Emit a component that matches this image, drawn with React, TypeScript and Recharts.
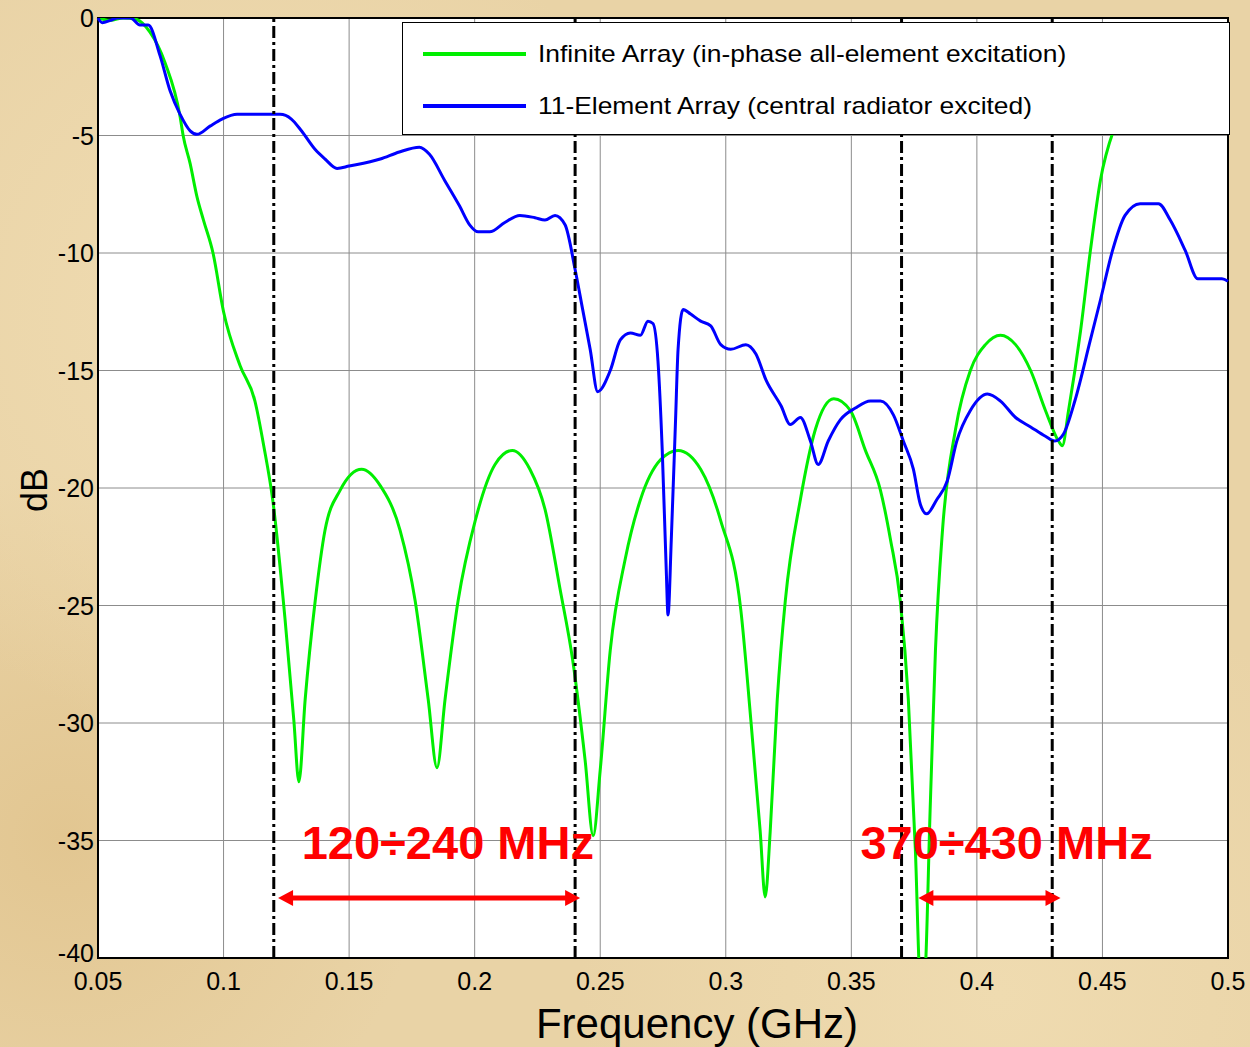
import {
  LineChart,
  Line,
  XAxis,
  YAxis,
  CartesianGrid,
  ReferenceLine,
  ReferenceArea,
  ReferenceDot,
} from 'recharts'

const FONT = '"Liberation Sans", Arial, sans-serif'

const xTicks = [0.05, 0.1, 0.15, 0.2, 0.25, 0.3, 0.35, 0.4, 0.45, 0.5]
const yTicks = [0, -5, -10, -15, -20, -25, -30, -35, -40]

// Infinite Array (in-phase all-element excitation)
const greenFreq = [
  0.05, 0.055, 0.06, 0.065, 0.0707, 0.0767, 0.0827, 0.0839, 0.0867, 0.0894, 0.092, 0.0958, 0.1,
  0.1066, 0.1125, 0.116, 0.1197, 0.1245, 0.128, 0.13, 0.1325, 0.1365, 0.1404, 0.1464, 0.155,
  0.1624, 0.1703, 0.1763, 0.1815, 0.185, 0.1882, 0.1934, 0.2002, 0.2081, 0.215, 0.222, 0.228,
  0.234, 0.239, 0.244, 0.2472, 0.25, 0.254, 0.26, 0.266, 0.274, 0.281, 0.29, 0.298, 0.306, 0.31,
  0.3137, 0.3157, 0.3177, 0.3205, 0.3237, 0.3297, 0.3357, 0.343, 0.3496, 0.3556, 0.3616, 0.3656,
  0.3695, 0.3727, 0.3755, 0.3775, 0.379, 0.3815, 0.3835, 0.3863, 0.3915, 0.3974, 0.4034, 0.4094,
  0.4154, 0.4214, 0.4273, 0.4325, 0.434, 0.4365, 0.4413, 0.4452, 0.4492, 0.455, 0.46, 0.465, 0.47,
  0.48, 0.49, 0.5,
]
const greenDb = [
  0, -0.1, 0, -0.05, -0.6, -1.9, -4.2, -5, -6.2, -7.6, -8.6, -10, -12.5, -14.8, -16.3, -18.2,
  -20.6, -25.6, -29.9, -32.5, -29, -24.8, -21.8, -20.1, -19.2, -19.9, -21.8, -24.8, -29, -31.9,
  -29, -24.8, -21.4, -19, -18.4, -19.2, -20.9, -24.3, -27.3, -31.6, -34.8, -32, -26.9, -23,
  -20.5, -18.8, -18.4, -19.2, -21.4, -25.2, -29.9, -34.6, -37.4, -34.6, -29, -24.8, -20.5, -17.5,
  -16.2, -16.7, -18.4, -20.1, -22.2, -24.8, -29, -35.4, -41, -41, -33.3, -26.9, -21.8, -17.5, -15,
  -13.9, -13.5, -13.9, -15, -16.7, -18, -18.2, -16.7, -13.3, -9.9, -6.9, -4.6, -3.4, -2.6, -2.1,
  -1.8, -1.6, -1.5,
]

// 11-Element Array (central radiator excited)
const blueFreq = [
  0.05, 0.0517, 0.055, 0.0577, 0.063, 0.0667, 0.07, 0.0747, 0.0787, 0.0827, 0.0867, 0.0894,
  0.0946, 0.0994, 0.1054, 0.1225, 0.127, 0.131, 0.1365, 0.1404, 0.1452, 0.15, 0.1624, 0.17, 0.178,
  0.182, 0.188, 0.194, 0.198, 0.2014, 0.206, 0.212, 0.218, 0.224, 0.228, 0.232, 0.236, 0.24,
  0.243, 0.246, 0.249, 0.254, 0.258, 0.262, 0.266, 0.269, 0.271, 0.273, 0.2747, 0.2763, 0.277,
  0.2783, 0.28, 0.281, 0.283, 0.286, 0.29, 0.294, 0.298, 0.302, 0.308, 0.312, 0.316, 0.322,
  0.3257, 0.3297, 0.3337, 0.3368, 0.3408, 0.3456, 0.3516, 0.3576, 0.3616, 0.3668, 0.3707, 0.3747,
  0.3775, 0.38, 0.384, 0.3882, 0.392, 0.3974, 0.4042, 0.4094, 0.4154, 0.4214, 0.4273, 0.431,
  0.4345, 0.439, 0.4452, 0.4492, 0.454, 0.459, 0.465, 0.4723, 0.477, 0.483, 0.488, 0.493, 0.4976,
  0.5,
]
const blueDb = [
  0, -0.2, -0.1, 0, 0, -0.3, -0.3, -1.6, -3.1, -4.1, -4.8, -4.95, -4.6, -4.3, -4.1, -4.1, -4.3,
  -4.8, -5.6, -6, -6.4, -6.3, -6, -5.7, -5.5, -5.8, -6.9, -8, -8.8, -9.1, -9.1, -8.7, -8.4, -8.5,
  -8.6, -8.4, -8.8, -10.7, -12.4, -14.1, -15.9, -15, -13.7, -13.4, -13.5, -12.9, -13, -14.6,
  -18.4, -23.5, -25.4, -22.2, -17.1, -14.1, -12.4, -12.6, -12.9, -13.1, -13.9, -14.1, -13.9,
  -14.3, -15.4, -16.5, -17.3, -17, -18, -19, -18, -17.1, -16.6, -16.3, -16.3, -16.9, -18, -19.2,
  -20.7, -21.1, -20.5, -19.7, -18, -16.7, -16, -16.3, -17, -17.4, -17.8, -18, -17.7, -16.3, -13.7,
  -12, -9.9, -8.4, -7.9, -7.9, -8.6, -9.9, -11.1, -11.1, -11.1, -11.2,
]

const bandEdges = [0.12, 0.24, 0.37, 0.43]
const bandLabels = ['120÷240 MHz', '370÷430 MHz']
const bandLabelX = [0.1893, 0.4118]
const bandArrows = [
  [0.1217, 0.242],
  [0.3767, 0.4333],
]

const greenData = greenFreq.map((f, i) => ({ f, db: greenDb[i] }))
const blueData = blueFreq.map((f, i) => ({ f, db: blueDb[i] }))

const ArrowShape = (p: any) => {
  const { x1, y1, x2, y2 } = p
  const h = 15
  const w = 8
  return (
    <g>
      <line x1={x1 + h - 2} y1={y1} x2={x2 - h + 2} y2={y2} stroke="#ff0000" strokeWidth={5} />
      <polygon points={`${x1},${y1} ${x1 + h},${y1 - w} ${x1 + h},${y1 + w}`} fill="#ff0000" />
      <polygon points={`${x2},${y2} ${x2 - h},${y2 - w} ${x2 - h},${y2 + w}`} fill="#ff0000" />
    </g>
  )
}

const bandText = (text: string) => (p: any) => (
  <text
    x={p.cx}
    y={p.cy}
    textAnchor="middle"
    fill="#ff0000"
    fontSize={47}
    fontWeight="bold"
    fontFamily={FONT}
  >
    {text}
  </text>
)

// y tick; the bottom label sits a little higher so it clears "0.05"
const YTick = (p: any) => {
  const v = p.payload.value
  return (
    <text
      x={p.x}
      y={p.y + (v === -40 ? -5 : 0)}
      textAnchor="end"
      dominantBaseline="central"
      fill="#000"
      fontSize={25}
      fontFamily={FONT}
    >
      {v}
    </text>
  )
}

export default function App() {
  return (
    <div
      style={{
        position: 'absolute',
        left: 0,
        top: 0,
        width: 1250,
        height: 1047,
        background:
          'radial-gradient(circle at 20% 30%, #f0dcb2 0, transparent 35%), radial-gradient(circle at 80% 95%, #efdbb0 0, transparent 30%), radial-gradient(circle at 5% 80%, #e2c691 0, transparent 25%), #e9d3a6',
        fontFamily: FONT,
      }}
    >
      <LineChart
        width={1250}
        height={1047}
        margin={{ top: 18, right: 22, left: 38, bottom: 49 }}
      >
        <CartesianGrid stroke="#8c8c8c" strokeWidth={1} fill="#ffffff" />
        <XAxis
          type="number"
          dataKey="f"
          domain={[0.05, 0.5]}
          ticks={xTicks}
          height={40}
          tickSize={0}
          tickMargin={14}
          axisLine={false}
          tick={{ fill: '#000', fontSize: 25, fontFamily: FONT }}
          tickFormatter={(v: number) => String(Number(v.toFixed(2)))}
        />
        <YAxis
          type="number"
          domain={[-40, 0]}
          ticks={yTicks}
          allowDataOverflow
          width={60}
          tickSize={0}
          tickMargin={4}
          axisLine={false}
          tick={YTick}
        />
        <Line
          data={greenData}
          dataKey="db"
          type="monotone"
          stroke="#00ee00"
          strokeWidth={3}
          dot={false}
          isAnimationActive={false}
        />
        <Line
          data={blueData}
          dataKey="db"
          type="monotone"
          stroke="#0000ff"
          strokeWidth={3}
          dot={false}
          isAnimationActive={false}
        />
        {bandEdges.map((x) => (
          <ReferenceLine
            key={x}
            x={x}
            stroke="#000"
            strokeWidth={3}
            strokeDasharray="12 4 3 4"
          />
        ))}
        <ReferenceArea x1={0.05} x2={0.5} y1={-40} y2={0} fill="none" stroke="#000" strokeWidth={2} />
        {bandArrows.map(([a, b]) => (
          <ReferenceLine
            key={a}
            segment={[
              { x: a, y: -37.45 },
              { x: b, y: -37.45 },
            ]}
            shape={ArrowShape}
            ifOverflow="visible"
          />
        ))}
        {bandLabels.map((t, i) => (
          <ReferenceDot
            key={t}
            x={bandLabelX[i]}
            y={-35.8}
            r={0}
            shape={bandText(t)}
            ifOverflow="visible"
          />
        ))}
      </LineChart>

      <div
        style={{
          position: 'absolute',
          left: 402,
          top: 22,
          width: 826,
          height: 111,
          background: '#fff',
          border: '1.5px solid #000',
        }}
      >
        {[
          { color: '#00ee00', label: 'Infinite Array (in-phase all-element excitation)', y: 31 },
          { color: '#0000ff', label: '11-Element Array (central radiator excited)', y: 83 },
        ].map((r) => (
          <div key={r.label}>
            <div
              style={{
                position: 'absolute',
                left: 20,
                top: r.y - 2,
                width: 103,
                height: 4,
                background: r.color,
              }}
            />
            <div
              style={{
                position: 'absolute',
                left: 135,
                top: r.y - 15,
                fontSize: 24,
                lineHeight: '30px',
                color: '#000',
                whiteSpace: 'nowrap',
                transform: 'scaleX(1.1)',
                transformOrigin: 'left center',
              }}
            >
              {r.label}
            </div>
          </div>
        ))}
      </div>

      <div
        style={{
          position: 'absolute',
          left: 35,
          top: 490,
          transform: 'translate(-50%, -50%) rotate(-90deg)',
          fontSize: 36,
          color: '#000',
          whiteSpace: 'nowrap',
        }}
      >
        dB
      </div>
      <div
        style={{
          position: 'absolute',
          left: 697,
          top: 1024,
          transform: 'translate(-50%, -50%)',
          fontSize: 42,
          color: '#000',
          whiteSpace: 'nowrap',
        }}
      >
        Frequency (GHz)
      </div>
    </div>
  )
}
